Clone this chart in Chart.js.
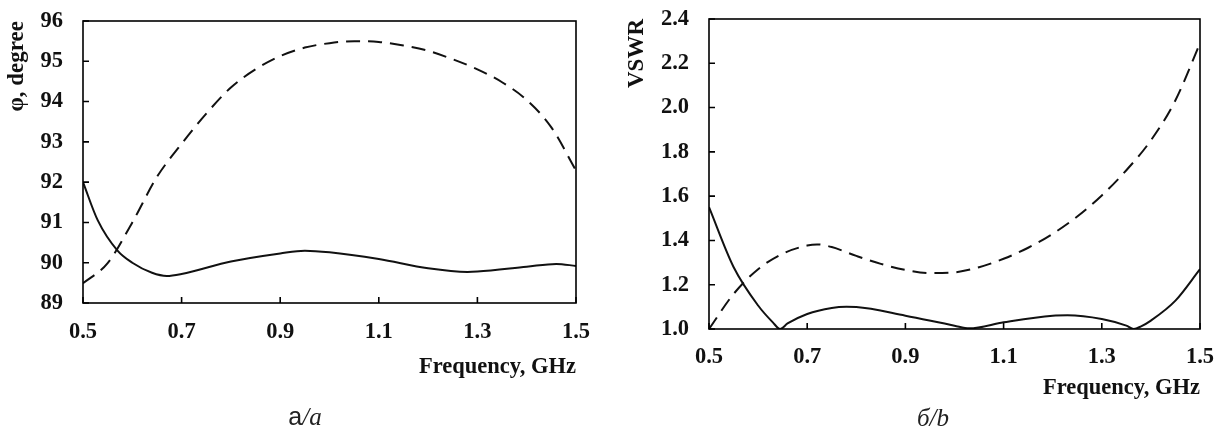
<!DOCTYPE html>
<html>
<head>
<meta charset="utf-8">
<script src="https://cdn.jsdelivr.net/npm/chart.js@4.4.1/dist/chart.umd.min.js"></script>
<style>
    html, body { margin: 0; padding: 0; background: #fff; }
    #wrap { position: relative; width: 1216px; height: 426px; overflow: hidden; }
    .box { position: absolute; top: 0; height: 426px; }
    .cap { position: absolute; color: #222; white-space: nowrap; transform: translate(-50%, -50%); }
</style>
</head>
<body>
<div id="wrap">
    <div class="box" style="left:0;width:600px"><canvas id="phaseChart"></canvas></div>
    <div class="box" style="left:600px;width:616px"><canvas id="vswrChart"></canvas></div>
    <div class="cap" style="left:305px;top:416px;font-size:25px"><span style="font-family:'Liberation Sans'">а</span><span style="font-family:'Liberation Serif';font-style:italic">/a</span></div>
    <div class="cap" style="left:933px;top:418px;font-size:25px;font-family:'Liberation Serif';font-style:italic">б/b</div>
</div>
<script>
// --- data ---
const phaseSolidF = [0.5, 0.53, 0.57, 0.6, 0.64, 0.67, 0.7, 0.8, 0.9, 0.95, 1.0, 1.1, 1.2, 1.28, 1.3, 1.4, 1.46, 1.5];
const phaseSolid  = [92.0, 91.05, 90.3, 90.0, 89.75, 89.67, 89.72, 90.03, 90.23, 90.3, 90.26, 90.09, 89.86, 89.77, 89.78, 89.9, 89.97, 89.92];

const phaseDashF = [0.5, 0.55, 0.6, 0.65, 0.7, 0.75, 0.8, 0.85, 0.9, 0.95, 1.0, 1.05, 1.1, 1.15, 1.2, 1.25, 1.3, 1.35, 1.4, 1.45, 1.5];
const phaseDash  = [89.49, 89.99, 91.0, 92.13, 92.95, 93.7, 94.35, 94.8, 95.13, 95.34, 95.45, 95.5, 95.48, 95.39, 95.26, 95.05, 94.8, 94.48, 94.04, 93.36, 92.29];

const vswrSolidF = [0.5, 0.55, 0.6, 0.63, 0.645, 0.66, 0.7, 0.75, 0.78, 0.8, 0.9, 1.0, 1.03, 1.1, 1.2, 1.23, 1.3, 1.35, 1.365, 1.38, 1.4, 1.45, 1.5];
const vswrSolid  = [1.55, 1.28, 1.106, 1.03, 1.0, 1.025, 1.068, 1.095, 1.10, 1.099, 1.06, 1.015, 1.003, 1.03, 1.06, 1.062, 1.045, 1.015, 1.0, 1.012, 1.038, 1.128, 1.27];

const vswrDashF = [0.5, 0.55, 0.6, 0.65, 0.7, 0.72, 0.75, 0.8, 0.85, 0.9, 0.95, 1.0, 1.05, 1.1, 1.15, 1.2, 1.25, 1.3, 1.35, 1.4, 1.45, 1.5];
const vswrDash  = [1.0, 1.158, 1.27, 1.34, 1.377, 1.382, 1.37, 1.33, 1.294, 1.267, 1.253, 1.256, 1.279, 1.317, 1.367, 1.43, 1.508, 1.603, 1.717, 1.852, 2.033, 2.29];

const SERIF = "'Liberation Serif', 'Times New Roman', serif";
const FS = 22.5;

function pts(xs, ys) { return xs.map((x, i) => ({ x: x, y: ys[i] })); }

// frame round the plot area and short ticks pointing inward
const frameTicks = {
    id: 'frameTicks',
    afterDraw(chart) {
        const { ctx, chartArea: a, scales } = chart;
        ctx.save();
        ctx.strokeStyle = '#000';
        ctx.lineWidth = 1.6;
        ctx.strokeRect(a.left, a.top, a.right - a.left, a.bottom - a.top);
        ctx.beginPath();
        scales.x.ticks.forEach(t => {
            const px = scales.x.getPixelForValue(t.value);
            ctx.moveTo(px, a.bottom);
            ctx.lineTo(px, a.bottom - 6);
        });
        scales.y.ticks.forEach(t => {
            const py = scales.y.getPixelForValue(t.value);
            ctx.moveTo(a.left, py);
            ctx.lineTo(a.left + 6, py);
        });
        ctx.stroke();
        ctx.restore();
    }
};

function lineSet(data, dashed) {
    return {
        data: data,
        borderColor: '#111',
        borderWidth: 2,
        borderDash: dashed ? [14, 8] : [],
        pointRadius: 0,
        fill: false,
        cubicInterpolationMode: 'monotone'
    };
}

// invisible tick marks used only as a gap between axis and labels
const gapGrid = len => ({ display: true, drawOnChartArea: false, drawTicks: true, tickLength: len, color: 'rgba(0,0,0,0)' });

function makeChart(id, cfg) {
    return new Chart(document.getElementById(id), {
        type: 'line',
        data: { datasets: cfg.sets },
        options: {
            responsive: true, maintainAspectRatio: false, animation: false,
            layout: { padding: { left: 0, right: cfg.padRight, top: cfg.padTop, bottom: 0 } },
            plugins: { legend: { display: false }, tooltip: { enabled: false } },
            scales: {
                x: {
                    type: 'linear', min: 0.5, max: 1.5,
                    afterBuildTicks: s => { s.ticks = [0.5, 0.7, 0.9, 1.1, 1.3, 1.5].map(v => ({ value: v })); },
                    afterFit: s => { s.height = cfg.xHeight; },
                    grid: gapGrid(cfg.xGap), border: { display: false },
                    ticks: { padding: 0, color: '#111', font: { family: SERIF, size: FS, weight: 'bold' }, callback: v => v.toFixed(1) },
                    title: { display: true, text: 'Frequency, GHz', align: 'end', color: '#111',
                        font: { family: SERIF, size: FS, weight: 'bold' }, padding: { top: 0, bottom: cfg.titleBottom } }
                },
                y: {
                    min: cfg.yMin, max: cfg.yMax,
                    ticks: { stepSize: cfg.yStep, padding: 0, color: '#111', font: { family: SERIF, size: FS, weight: 'bold' }, callback: cfg.yFmt },
                    afterFit: s => { s.width = cfg.yWidth; },
                    grid: gapGrid(20), border: { display: false },
                    title: { display: true, text: cfg.yTitle, align: 'end', color: '#111',
                        font: { family: SERIF, size: 23, weight: 'bold' }, padding: { top: cfg.yTitlePad, bottom: 0 } }
                }
            }
        },
        plugins: [frameTicks]
    });
}

makeChart('phaseChart', {
    sets: [lineSet(pts(phaseSolidF, phaseSolid), false), lineSet(pts(phaseDashF, phaseDash), true)],
    yMin: 89, yMax: 96, yStep: 1, yFmt: v => v,
    yTitle: 'φ, degree', yTitlePad: 3, yWidth: 83,
    padRight: 24, padTop: 21, xHeight: 123, xGap: 15.5, titleBottom: 45.5
});

makeChart('vswrChart', {
    sets: [lineSet(pts(vswrSolidF, vswrSolid), false), lineSet(pts(vswrDashF, vswrDash), true)],
    yMin: 1.0, yMax: 2.4, yStep: 0.2, yFmt: v => v.toFixed(1),
    yTitle: 'VSWR', yTitlePad: 23, yWidth: 109,
    padRight: 16, padTop: 19, xHeight: 97, xGap: 14.5, titleBottom: 24.5
});
</script>
</body>
</html>
